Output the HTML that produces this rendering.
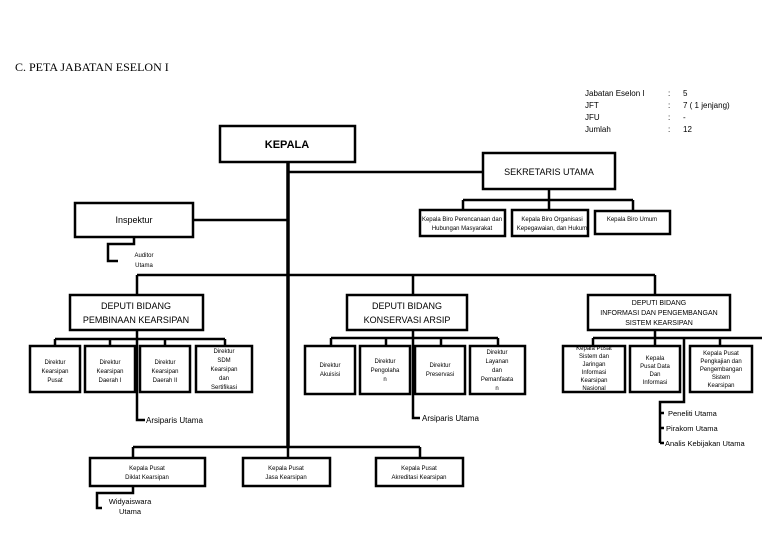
<!DOCTYPE html>
<html><head><meta charset="utf-8"><style>
html,body{margin:0;padding:0;background:#fff;}
svg{display:block;font-family:"Liberation Sans",sans-serif;}
.b{fill:#fff;stroke:#000;stroke-width:2.5}
.l{stroke:#000;stroke-width:2.5;fill:none}
.t{stroke:#000;stroke-width:3.5;fill:none}
.s{font-size:6px;text-anchor:middle}
.m{font-size:8px}
</style></head><body>
<svg width="780" height="540" viewBox="0 0 780 540">
<text x="15" y="71" font-family="Liberation Serif,serif" font-size="12">C. PETA JABATAN ESELON  I</text>
<g class="m" font-size="9">
<text x="585" y="96">Jabatan Eselon I</text><text x="668" y="96">:</text><text x="683" y="96">5</text>
<text x="585" y="108">JFT</text><text x="668" y="108">:</text><text x="683" y="108">7 ( 1 jenjang)</text>
<text x="585" y="120">JFU</text><text x="668" y="120">:</text><text x="683" y="120">-</text>
<text x="585" y="132">Jumlah</text><text x="668" y="132">:</text><text x="683" y="132">12</text>
</g>
<!-- trunk -->
<path class="t" d="M288 162 V447"/>
<path class="l" d="M288 172 H483 M193 220 H288 M137 275 H655 M137 275 V295 M413 275 V295 M655 275 V295"/>
<rect class="b" x="220" y="126" width="135" height="36"/>
<text x="287" y="148" font-size="11" font-weight="bold" text-anchor="middle">KEPALA</text>
<rect class="b" x="483" y="153" width="132" height="36"/>
<text x="549" y="175" font-size="9" text-anchor="middle">SEKRETARIS UTAMA</text>
<path class="l" d="M549 189 V200 M463 200 H633 M463 200 V210 M549 200 V210 M633 200 V211"/>
<rect class="b" x="420" y="210" width="85" height="26"/>
<rect class="b" x="512" y="210" width="76" height="26"/>
<rect class="b" x="595" y="211" width="75" height="23"/>
<g class="s"><text x="462" y="221">Kepala Biro Perencanaan dan</text><text x="462" y="230">Hubungan Masyarakat</text>
<text x="552" y="221">Kepala Biro Organisasi</text><text x="552" y="230">Kepegawaian, dan Hukum</text>
<text x="632" y="221">Kepala Biro Umum</text></g>
<rect class="b" x="75" y="203" width="118" height="34"/>
<text x="134" y="223" font-size="9" text-anchor="middle">Inspektur</text>
<path class="l" d="M134 237 V244 H108 V261 H118"/>
<g class="s"><text x="144" y="257">Auditor</text><text x="144" y="267">Utama</text></g>
<!-- deputies -->
<rect class="b" x="70" y="295" width="133" height="35"/>
<g font-size="9" text-anchor="middle"><text x="136" y="309">DEPUTI BIDANG</text><text x="136" y="323">PEMBINAAN KEARSIPAN</text></g>
<rect class="b" x="347" y="295" width="120" height="35"/>
<g font-size="9" text-anchor="middle"><text x="407" y="309">DEPUTI BIDANG</text><text x="407" y="323">KONSERVASI ARSIP</text></g>
<rect class="b" x="588" y="295" width="142" height="35"/>
<g font-size="7" text-anchor="middle"><text x="659" y="305">DEPUTI BIDANG</text><text x="659" y="315">INFORMASI DAN PENGEMBANGAN</text><text x="659" y="325">SISTEM KEARSIPAN</text></g>
<!-- DB1 children -->
<path class="l" d="M137 330 V420 H145 M55 339 H225 M55 339 V346 M110 339 V346 M165 339 V346 M225 339 V346"/>
<rect class="b" x="30" y="346" width="50" height="46"/><rect class="b" x="85" y="346" width="50" height="46"/>
<rect class="b" x="140" y="346" width="50" height="46"/><rect class="b" x="196" y="346" width="56" height="46"/>
<g class="s"><text x="55" y="364">Direktur</text><text x="55" y="373">Kearsipan</text><text x="55" y="382">Pusat</text>
<text x="110" y="364">Direktur</text><text x="110" y="373">Kearsipan</text><text x="110" y="382">Daerah I</text>
<text x="165" y="364">Direktur</text><text x="165" y="373">Kearsipan</text><text x="165" y="382">Daerah II</text>
<text x="224" y="353">Direktur</text><text x="224" y="362">SDM</text><text x="224" y="371">Kearsipan</text><text x="224" y="380">dan</text><text x="224" y="389">Sertifikasi</text></g>
<text x="146" y="423" class="m" font-size="7.5">Arsiparis Utama</text>
<!-- DB2 children -->
<path class="l" d="M413 330 V418 H420 M331 338 H498 M331 338 V346 M386 338 V346 M441 338 V346 M498 338 V346"/>
<rect class="b" x="305" y="346" width="50" height="48"/><rect class="b" x="360" y="346" width="50" height="48"/>
<rect class="b" x="415" y="346" width="50" height="48"/><rect class="b" x="470" y="346" width="55" height="48"/>
<g class="s"><text x="330" y="367">Direktur</text><text x="330" y="376">Akuisisi</text>
<text x="385" y="363">Direktur</text><text x="385" y="372">Pengolaha</text><text x="385" y="381">n</text>
<text x="440" y="367">Direktur</text><text x="440" y="376">Preservasi</text>
<text x="497" y="354">Direktur</text><text x="497" y="363">Layanan</text><text x="497" y="372">dan</text><text x="497" y="381">Pemanfaata</text><text x="497" y="390">n</text></g>
<text x="422" y="421" class="m" font-size="7.5">Arsiparis Utama</text>
<!-- DB3 children -->
<path class="l" d="M655 330 V338 M593 338 H762 M593 338 V346 M655 338 V346 M720 338 V346 M684 338 V402 H660 V443 M660 413 H664 M660 428 H664 M660 443 H664"/>
<rect class="b" x="563" y="346" width="62" height="46"/><rect class="b" x="630" y="346" width="50" height="46"/>
<rect class="b" x="690" y="346" width="62" height="46"/>
<g class="s"><text x="594" y="350">Kepala Pusat</text><text x="594" y="358">Sistem dan</text><text x="594" y="366">Jaringan</text><text x="594" y="374">Informasi</text><text x="594" y="382">Kearsipan</text><text x="594" y="390">Nasional</text>
<text x="655" y="360">Kepala</text><text x="655" y="368">Pusat Data</text><text x="655" y="376">Dan</text><text x="655" y="384">Informasi</text>
<text x="721" y="355">Kepala Pusat</text><text x="721" y="363">Pengkajian dan</text><text x="721" y="371">Pengembangan</text><text x="721" y="379">Sistem</text><text x="721" y="387">Kearsipan</text></g>
<g font-size="7.5"><text x="668" y="416">Peneliti Utama</text><text x="666" y="431">Pirakom Utama</text><text x="665" y="446">Analis Kebijakan Utama</text></g>
<!-- bottom -->
<path class="l" d="M133 447 H420 M133 447 V458 M288 447 V458 M420 447 V458 M133 486 V493 H97 V508 H102"/>
<rect class="b" x="90" y="458" width="115" height="28"/><rect class="b" x="243" y="458" width="87" height="28"/>
<rect class="b" x="376" y="458" width="87" height="28"/>
<g class="s"><text x="147" y="470">Kepala Pusat</text><text x="147" y="479">Diklat Kearsipan</text>
<text x="286" y="470">Kepala Pusat</text><text x="286" y="479">Jasa Kearsipan</text>
<text x="419" y="470">Kepala Pusat</text><text x="419" y="479">Akreditasi Kearsipan</text></g>
<g font-size="7.5" text-anchor="middle"><text x="130" y="504">Widyaiswara</text><text x="130" y="514">Utama</text></g>
</svg>
</body></html>
